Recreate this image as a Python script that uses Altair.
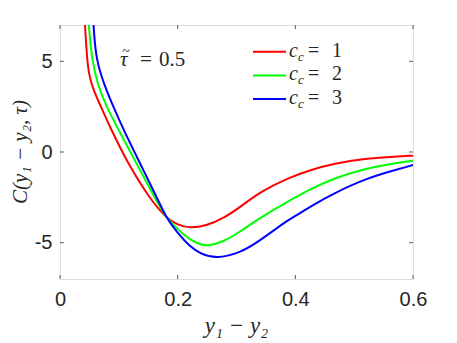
import altair as alt
import pandas as pd

# ---- data ----
red_x = [0.0425, 0.046, 0.050, 0.0567, 0.071, 0.086, 0.106, 0.116, 0.150, 0.181,
         0.200, 0.221, 0.250, 0.278, 0.310, 0.340, 0.391, 0.425, 0.465, 0.521, 0.560, 0.600]
red_y = [7.0, 5.07, 4.15, 3.42, 2.4, 1.3, 0.0, -0.62, -2.46, -3.66,
         -4.02, -4.21, -4.05, -3.66, -2.95, -2.2, -1.38, -1.0, -0.63, -0.36, -0.27, -0.20]

green_x = [0.049, 0.054, 0.065, 0.079, 0.103, 0.130, 0.160, 0.181, 0.200, 0.221, 0.238,
           0.252, 0.278, 0.306, 0.334, 0.391, 0.408, 0.425, 0.465, 0.521, 0.560, 0.600]
green_y = [7.0, 5.07, 3.6, 2.5, 1.0, -0.62, -2.46, -3.66, -4.25, -4.85, -5.1,
           -5.18, -4.94, -4.4, -3.75, -2.65, -2.37, -2.06, -1.45, -0.90, -0.66, -0.48]

blue_x = [0.057, 0.061, 0.0765, 0.0906, 0.109, 0.136, 0.164, 0.181, 0.200, 0.221, 0.238,
          0.266, 0.306, 0.334, 0.391, 0.408, 0.425, 0.465, 0.521, 0.570, 0.600]
blue_y = [7.0, 5.07, 3.6, 2.5, 1.15, -0.62, -2.46, -3.66, -4.47, -5.22, -5.6,
          -5.90, -5.55, -5.03, -3.66, -3.38, -3.01, -2.28, -1.45, -0.99, -0.72]

series_names = ["c_c = 1", "c_c = 2", "c_c = 3"]
legend_digits = ["1", "2", "3"]
colors = ["#ff0000", "#00ff00", "#0000ff"]

x_ticks = [0, 0.2, 0.4, 0.6]
y_ticks = [-5, 0, 5]

x_title = "y\u2081 \u2212 y\u2082"
y_title = "C(y\u2081 \u2212 y\u2082, \u03c4)"

W, H = 353, 254

rows = []
for name, xs, ys in zip(series_names, [red_x, green_x, blue_x], [red_y, green_y, blue_y]):
    for i, (a, b) in enumerate(zip(xs, ys)):
        rows.append({"series": name, "x": a, "y": b, "i": i})
df = pd.DataFrame(rows)

xscale = alt.Scale(domain=[0, 0.6], nice=False, zero=False)
yscale = alt.Scale(domain=[-7, 7], nice=False, zero=False)

axis_common = dict(ticks=False, domain=False, grid=False, title=None, labelFlush=False,
                   labelFont="Liberation Sans", labelFontSize=20, labelColor="#262626")

lines = alt.Chart(df).mark_line(strokeWidth=2, interpolate="basis", clip=True).encode(
    x=alt.X("x:Q", scale=xscale,
            axis=alt.Axis(values=x_ticks, labelPadding=10,
                          labelExpr="datum.value == 0 ? '0' : format(datum.value, '.1f')",
                          **axis_common)),
    y=alt.Y("y:Q", scale=yscale,
            axis=alt.Axis(values=y_ticks, labelPadding=8, labelExpr="'' + datum.value",
                          **axis_common)),
    color=alt.Color("series:N", scale=alt.Scale(domain=series_names, range=colors), legend=None),
    order="i:Q",
)

tick_col = "#595959"
xt = alt.Chart(pd.DataFrame({"x": x_ticks}))
yt = alt.Chart(pd.DataFrame({"y": y_ticks}))
tick_len = 4
ticks = [
    xt.mark_rule(color=tick_col, strokeWidth=1).encode(
        x=alt.X("x:Q"), y=alt.value(H), y2=alt.value(H - tick_len)),
    xt.mark_rule(color=tick_col, strokeWidth=1).encode(
        x=alt.X("x:Q"), y=alt.value(0), y2=alt.value(tick_len)),
    yt.mark_rule(color=tick_col, strokeWidth=1).encode(
        y=alt.Y("y:Q"), x=alt.value(0), x2=alt.value(tick_len)),
    yt.mark_rule(color=tick_col, strokeWidth=1).encode(
        y=alt.Y("y:Q"), x=alt.value(W), x2=alt.value(W - tick_len)),
]

one = pd.DataFrame({"k": [0]})


def txt(s, x, y, size, italic=False, font="Liberation Serif", angle=0, align="left"):
    props = dict(text=s, font=font, fontSize=size, color="#262626",
                 align=align, baseline="alphabetic")
    if italic:
        props["fontStyle"] = "italic"
    if angle:
        props["angle"] = angle
    return alt.Chart(one).mark_text(**props).encode(x=alt.value(x), y=alt.value(y))


texts = []
# axis titles
texts.append(txt(x_title, W / 2, 308, 23, italic=True, align="center"))
texts.append(txt(y_title, -33, H / 2, 21, italic=True, angle=270, align="center"))
# annotation tau~ = 0.5
texts.append(txt("\u03c4", 60, 41, 21, italic=True))
texts.append(txt("~", 66, 31, 14, align="center"))
texts.append(txt("=", 80, 41, 21))
texts.append(txt("0.5", 99, 41, 21))

# manual legend
leg = []
for k, (d, c) in enumerate(zip(legend_digits, colors)):
    yy = 26.7 + k * 23.7
    leg.append(alt.Chart(one).mark_rule(color=c, strokeWidth=2).encode(
        x=alt.value(193), x2=alt.value(226), y=alt.value(yy)))
    leg.append(txt("c", 229, yy + 5, 20, italic=True))
    leg.append(txt("c", 238, yy + 9, 13, italic=True))
    leg.append(txt("=", 248, yy + 5, 20))
    leg.append(txt(d, 272, yy + 5, 20))

chart = alt.layer(lines, *ticks, *texts, *leg).properties(
    width=W, height=H,
    autosize=alt.AutoSizeParams(type="none"),
    padding={"left": 52, "top": 17, "right": 36, "bottom": 64},
).configure_view(stroke="#595959", strokeWidth=1).configure(background="white")

chart.save("out.html", embed_options={"renderer": "svg", "actions": False})
